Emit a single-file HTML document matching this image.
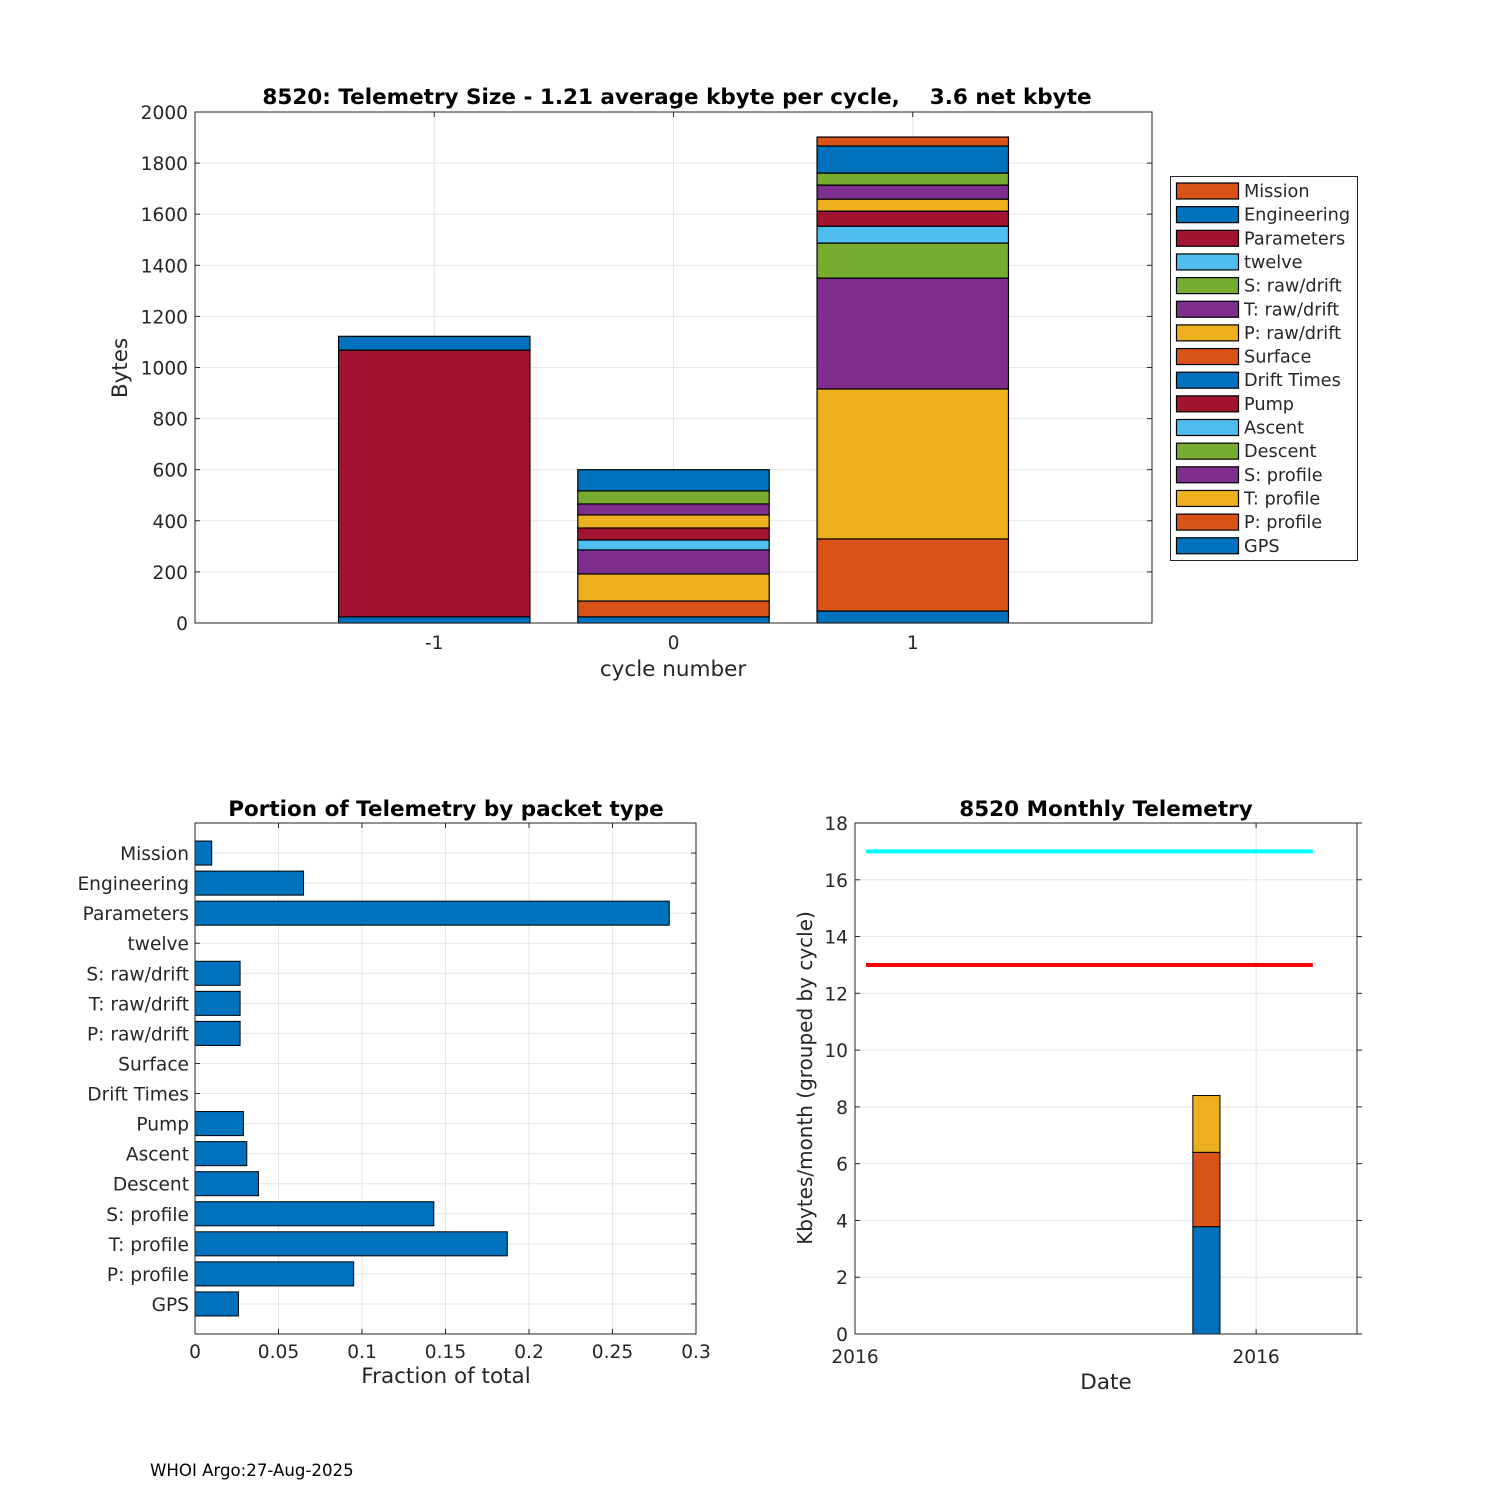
<!DOCTYPE html>
<html><head><meta charset="utf-8"><style>
body{margin:0;background:#fff}
svg{display:block;font-family:"DejaVu Sans","Liberation Sans",sans-serif}
</style></head><body>
<svg id="s" width="1500" height="1500" xmlns="http://www.w3.org/2000/svg"></svg>
<script>
// ---- data ----
const stackNames = ["GPS","P: profile","T: profile","S: profile","Descent","Ascent","Pump","Drift Times","Surface","P: raw/drift","T: raw/drift","S: raw/drift","twelve","Parameters","Engineering","Mission"];
const stackColors = ["#0072bd","#d95319","#edb120","#7e2f8e","#77ac30","#4dbeee","#a2142f","#0072bd","#d95319","#edb120","#7e2f8e","#77ac30","#4dbeee","#a2142f","#0072bd","#d95319"];
const cycles = [-1,0,1];
const bytesCycleM1 = [24,0,0,0,0,0,0,0,0,0,0,0,0,1044,54,0];
const bytesCycle0 = [24,62,106,94,0,39,47,0,0,51,43,51,0,0,83,0];
const bytesCycle1 = [47,282,587,434,137,66,59,0,0,47,55,47,0,0,106,35];
const yTicksTop = [0,200,400,600,800,1000,1200,1400,1600,1800,2000];
const fracNames = ["GPS","P: profile","T: profile","S: profile","Descent","Ascent","Pump","Drift Times","Surface","P: raw/drift","T: raw/drift","S: raw/drift","twelve","Parameters","Engineering","Mission"];
const fracValues = [0.026,0.095,0.187,0.143,0.038,0.031,0.029,0,0,0.027,0.027,0.027,0,0.284,0.065,0.010];
const fracTicks = [0,0.05,0.1,0.15,0.2,0.25,0.3];
const fracTickLabels = ["0","0.05","0.1","0.15","0.2","0.25","0.3"];
const monthlyStack = [3.78,2.62,2.0];
const monthlyColors = ["#0072bd","#d95319","#edb120"];
const monthlyBarX = 0.70;
const monthlyBarW = 0.054;
const limitCyan = 17, limitRed = 13;
const limitStart = 0.022, limitEnd = 0.912;
const monthTicks = [0,2,4,6,8,10,12,14,16,18];
const dateTicks = [0,0.799];
const dateTickLabels = ["2016","2016"];

const NS="http://www.w3.org/2000/svg", S=document.getElementById('s');
function el(t,a,txt){const e=document.createElementNS(NS,t);for(const k in a)e.setAttribute(k,a[k]);if(txt!==undefined)e.textContent=txt;S.appendChild(e);return e;}
const AX="#262626", GR="#e6e6e6", FT=18.6, FA=21.5, FTT=21.5;
let e;

// ---- top chart ----
const T={x0:195,x1:1152,y0:623,y1:112};
const tx=v=>T.x0+(v+2)/4*(T.x1-T.x0), ty=v=>T.y0-v/2000*(T.y0-T.y1);
e=el('rect',{x:T.x0,y:T.y1,width:T.x1-T.x0,height:T.y0-T.y1,fill:"#fff"});


yTicksTop.forEach(v=>{el('line',{x1:T.x0,x2:T.x1,y1:ty(v),y2:ty(v),stroke:GR});
 const t=el('text',{x:T.x0-7,y:ty(v)+7,'text-anchor':'end','font-size':FT,fill:AX},v);
 
 
 el('line',{x1:T.x0,x2:T.x0+5,y1:ty(v),y2:ty(v),stroke:AX});el('line',{x1:T.x1,x2:T.x1-5,y1:ty(v),y2:ty(v),stroke:AX});});
cycles.forEach(c=>{el('line',{x1:tx(c),x2:tx(c),y1:T.y0,y2:T.y1,stroke:GR});
 const t=el('text',{x:tx(c),y:T.y0+26,'text-anchor':'middle','font-size':FT,fill:AX},c);
 
 
 el('line',{x1:tx(c),x2:tx(c),y1:T.y0,y2:T.y0-5,stroke:AX});el('line',{x1:tx(c),x2:tx(c),y1:T.y1,y2:T.y1+5,stroke:AX});});
[bytesCycleM1,bytesCycle0,bytesCycle1].forEach((arr,ci)=>{let base=0;
 arr.forEach((v,i)=>{if(v<=0)return;
 const b=el('rect',{x:tx(cycles[ci]-0.4),y:ty(base+v),width:tx(0.4)-tx(-0.4),height:ty(base)-ty(base+v),fill:stackColors[i],stroke:"#000",'stroke-width':1.2});
 
 
 base+=v;});});
el('rect',{x:T.x0,y:T.y1,width:T.x1-T.x0,height:T.y0-T.y1,fill:"none",stroke:AX});
e=el('text',{x:677,y:104,'text-anchor':'middle','font-size':FTT,'font-weight':'bold',fill:"#000",style:'white-space:pre'},"8520: Telemetry Size - 1.21 average kbyte per cycle,    3.6 net kbyte");


e=el('text',{x:673,y:676,'text-anchor':'middle','font-size':FA,fill:AX},"cycle number");


e=el('text',{x:127,y:368,'text-anchor':'middle','font-size':FA,fill:AX,transform:'rotate(-90 127 368)'},"Bytes");


// legend
e=el('rect',{x:1170.5,y:176.5,width:187,height:384,fill:"#fff",stroke:AX});


for(let k=0;k<16;k++){const i=15-k,y=183+k*23.65;
 e=el('rect',{x:1176.5,y:y,width:62,height:16,fill:stackColors[i],stroke:"#000",'stroke-width':1.2});
 
 
 e=el('text',{x:1244,y:y+14,'font-size':17.7,fill:AX},stackNames[i]);
 
 }

// ---- bottom-left ----
const L={x0:195,x1:696,y0:1334,y1:823};
const lx=v=>L.x0+v/0.3*(L.x1-L.x0), ly=v=>L.y0-v/17*(L.y0-L.y1);
fracTicks.forEach((v,i)=>{el('line',{x1:lx(v),x2:lx(v),y1:L.y0,y2:L.y1,stroke:GR});
 el('line',{x1:lx(v),x2:lx(v),y1:L.y0,y2:L.y0-5,stroke:AX});el('line',{x1:lx(v),x2:lx(v),y1:L.y1,y2:L.y1+5,stroke:AX});
 e=el('text',{x:lx(v),y:L.y0+24,'text-anchor':'middle','font-size':FT,fill:AX},fracTickLabels[i]);
 
 });
fracNames.forEach((n,i)=>{const y=ly(i+1);el('line',{x1:L.x0,x2:L.x1,y1:y,y2:y,stroke:GR});
 el('line',{x1:L.x0,x2:L.x0+5,y1:y,y2:y,stroke:AX});el('line',{x1:L.x1,x2:L.x1-5,y1:y,y2:y,stroke:AX});
 e=el('text',{x:L.x0-6,y:y+7,'text-anchor':'end','font-size':FT,fill:AX},n);
 
 
 if(fracValues[i]>0){const h=0.8*(ly(0)-ly(1));
 e=el('rect',{x:lx(0),y:y-h/2,width:lx(fracValues[i])-lx(0),height:h,fill:"#0072bd",stroke:"#000",'stroke-width':1});
 
 }});
el('rect',{x:L.x0,y:L.y1,width:L.x1-L.x0,height:L.y0-L.y1,fill:"none",stroke:AX});
e=el('text',{x:446,y:816,'text-anchor':'middle','font-size':FTT,'font-weight':'bold',fill:"#000"},"Portion of Telemetry by packet type");


e=el('text',{x:446,y:1383,'text-anchor':'middle','font-size':FA,fill:AX},"Fraction of total");



// ---- bottom-right ----
const R={x0:855,x1:1357,y0:1334,y1:823};
const rx=f=>R.x0+f*(R.x1-R.x0), ry=v=>R.y0-v/18*(R.y0-R.y1);
monthTicks.forEach(v=>{el('line',{x1:R.x0,x2:R.x1,y1:ry(v),y2:ry(v),stroke:GR});
 el('line',{x1:R.x0,x2:R.x0+5,y1:ry(v),y2:ry(v),stroke:AX});el('line',{x1:R.x1,x2:R.x1+5,y1:ry(v),y2:ry(v),stroke:AX});
 e=el('text',{x:R.x0-7,y:ry(v)+7,'text-anchor':'end','font-size':FT,fill:AX},v);
 
 });
dateTicks.forEach((f,i)=>{el('line',{x1:rx(f),x2:rx(f),y1:R.y0,y2:R.y1,stroke:GR});
 el('line',{x1:rx(f),x2:rx(f),y1:R.y0,y2:R.y0-5,stroke:AX});el('line',{x1:rx(f),x2:rx(f),y1:R.y1,y2:R.y1+5,stroke:AX});
 e=el('text',{x:rx(f),y:R.y0+29,'text-anchor':'middle','font-size':FT,fill:AX},dateTickLabels[i]);
 
 });
(function(){let base=0;monthlyStack.forEach((v,i)=>{
 const b=el('rect',{x:rx(monthlyBarX-monthlyBarW/2),y:ry(base+v),width:rx(monthlyBarW)-rx(0),height:ry(base)-ry(base+v),fill:monthlyColors[i],stroke:"#000",'stroke-width':1});
 
 
 base+=v;});})();
e=el('line',{x1:rx(limitStart),x2:rx(limitEnd),y1:ry(limitCyan),y2:ry(limitCyan),stroke:"#00ffff",'stroke-width':4});


e=el('line',{x1:rx(limitStart),x2:rx(limitEnd),y1:ry(limitRed),y2:ry(limitRed),stroke:"#ff0000",'stroke-width':4});


el('rect',{x:R.x0,y:R.y1,width:R.x1-R.x0,height:R.y0-R.y1,fill:"none",stroke:AX});
e=el('text',{x:1106,y:816,'text-anchor':'middle','font-size':FTT,'font-weight':'bold',fill:"#000"},"8520 Monthly Telemetry");


e=el('text',{x:1106,y:1389,'text-anchor':'middle','font-size':FA,fill:AX},"Date");


e=el('text',{x:812,y:1078,'text-anchor':'middle','font-size':FA*0.93,fill:AX,transform:'rotate(-90 812 1078)'},"Kbytes/month (grouped by cycle)");


e=el('text',{x:150,y:1476,'font-size':16.6,fill:"#000"},"WHOI Argo:27-Aug-2025");


</script>
</body></html>
